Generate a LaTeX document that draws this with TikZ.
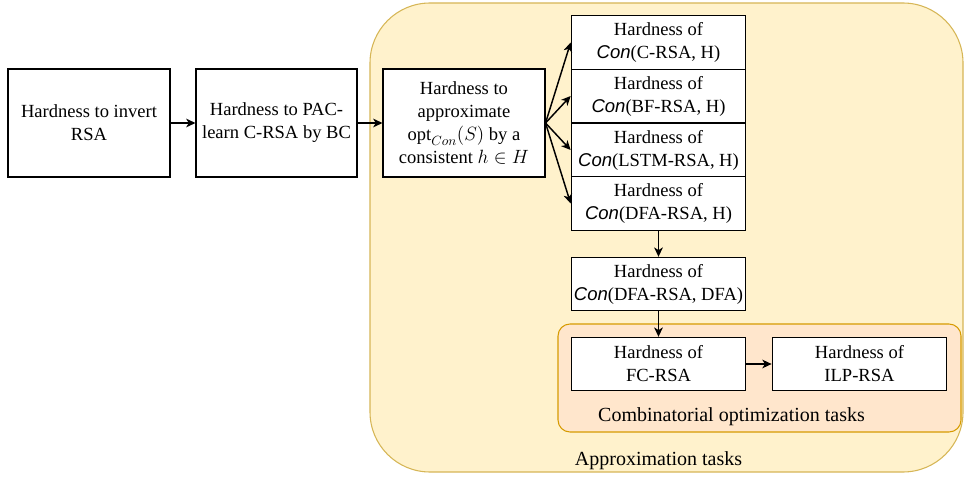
\documentclass[tikz,border=0pt]{standalone}
\usepackage{fontspec}
\setmainfont{Liberation Serif}
\setsansfont{Liberation Sans}
\usetikzlibrary{arrows.meta}

\definecolor{apxfill}{HTML}{FFF2CC}
\definecolor{apxline}{HTML}{D6B656}
\definecolor{cmbfill}{HTML}{FFE6CC}
\definecolor{cmbline}{HTML}{D79B00}

\newcommand{\conop}{\textsf{\itshape Con}}

\tikzset{
  hbox/.style={draw, fill=white, line width=0.8pt, align=center, inner sep=0pt,
    font=\fontsize{13.9}{17.3}\selectfont},
  wide/.style={hbox, minimum width=121.5pt, minimum height=81pt},
  slim/.style={hbox, minimum width=131pt, minimum height=40pt},
  grouplabel/.style={font=\fontsize{15}{18}\selectfont},
  arr/.style={-{Stealth[length=7pt,width=6.5pt,inset=2pt]}, line width=1.1pt},
}

\begin{document}
\begin{tikzpicture}[x=0.75pt,y=-0.75pt]
        \useasboundingbox (0,0) rectangle (964,477);
        % groups
        \draw[fill=apxfill, draw=apxline, line width=0.8pt, rounded corners=45pt] (370,3) rectangle (963,472);
        \draw[fill=cmbfill, draw=cmbline, line width=0.8pt, rounded corners=9pt] (558,324) rectangle (961,432);
        \node[grouplabel] (apxlabel) at (658.5,461) {Approximation tasks};
        \node[grouplabel] (cmblabel) at (731.5,417) {Combinatorial optimization tasks};
        % chain
        \node[wide] (inv) at (89,123) {Hardness to invert\\RSA};
        \node[wide, minimum width=120.75pt] (pac) at (276.5,123) {Hardness to PAC-\\learn C-RSA by BC};
        \node[wide] (apx) at (464,123) {Hardness to\\approximate\\$\mathrm{opt}_{Con}(S)$ by a\\consistent $h\in H$};
        \node[slim] (conc) at (658.5,42.5) {Hardness of\\\conop(C-RSA, H)};
        \node[slim] (conbf) at (658.5,96) {Hardness of\\\conop(BF-RSA, H)};
        \node[slim] (conlstm) at (658.5,150) {Hardness of\\\conop(LSTM-RSA, H)};
        \node[slim] (condfa) at (658.5,203.5) {Hardness of\\\conop(DFA-RSA, H)};
        \node[slim] (dfa) at (658.5,284) {Hardness of\\\conop(DFA-RSA, DFA)};
        \node[slim] (fc) at (658.5,364) {Hardness of\\FC-RSA};
        \node[slim] (ilp) at (859.5,364) {Hardness of\\ILP-RSA};
        % arrows
        \draw[arr] (inv) -- (pac);
        \draw[arr] (pac) -- (apx);
        \foreach \t in {conc,conbf,conlstm,condfa}
          \draw[arr] (apx.east) -- (\t.west);
        \draw[arr] (condfa) -- (dfa);
        \draw[arr] (dfa) -- (fc);
        \draw[arr] (fc) -- (ilp);
      \end{tikzpicture}
\end{document}
